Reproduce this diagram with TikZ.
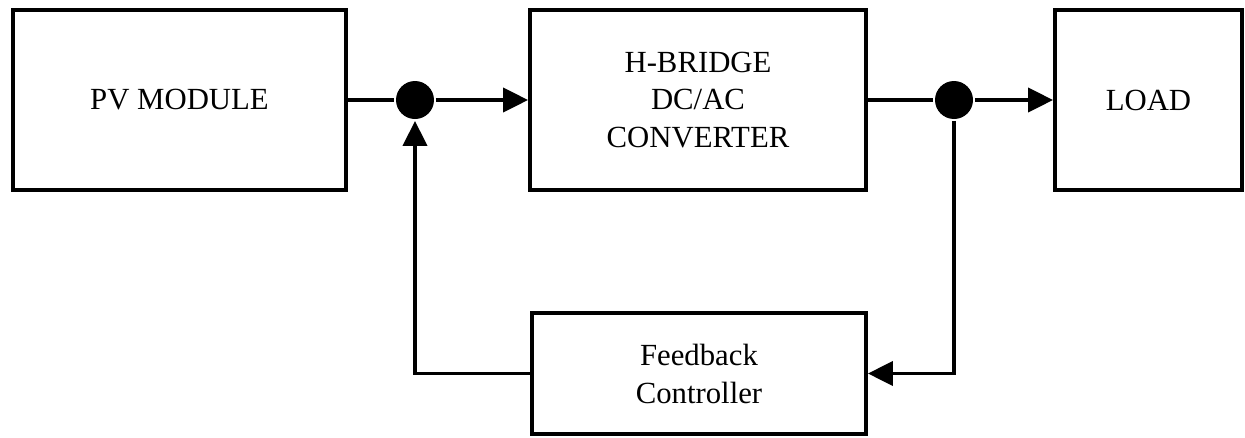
\documentclass[tikz,border=0pt]{standalone}
\usepackage{fontspec}
\setmainfont{Liberation Serif}
\usetikzlibrary{arrows.meta}

\tikzset{
  block/.style={draw,line width=2.2pt,align=center,
    font=\fontsize{17.5}{21.6}\selectfont,inner sep=0pt},
  junction/.style={circle,fill,inner sep=0pt,minimum size=0.76cm},
  arr/.style={-{Triangle[length=0.5cm,width=0.48cm]}}
}

\begin{document}
\begin{tikzpicture}[x=0.02cm,y=-0.02cm,line width=2.2pt]
  % fix the page to the size of the reference
  \useasboundingbox (0,0) rectangle (1245,437);

  % the four blocks
  \node[block,minimum width=6.66cm,minimum height=3.6cm] (pv) at (179.5,100) {PV MODULE};
  \node[block,minimum width=6.72cm,minimum height=3.6cm] (conv) at (698,100)
    {H-BRIDGE\\DC/AC\\CONVERTER};
  \node[block,minimum width=3.74cm,minimum height=3.6cm] (load) at (1148.5,100) {LOAD};
  \node[block,minimum width=6.68cm,minimum height=2.42cm] (fb) at (699,373.5)
    {Feedback\\Controller};

  % junction points on the main line
  \node[junction] (j1) at (415,100) {};
  \node[junction] (j2) at (954,100) {};

  % main power path
  \draw (pv) -- (j1);
  \draw[arr] (j1) -- (conv);
  \draw (conv) -- (j2);
  \draw[arr] (j2) -- (load);

  % feedback loop
  \draw[arr] (j2) |- (fb);
  \draw[arr] (fb) -| (j1);
\end{tikzpicture}
\end{document}
